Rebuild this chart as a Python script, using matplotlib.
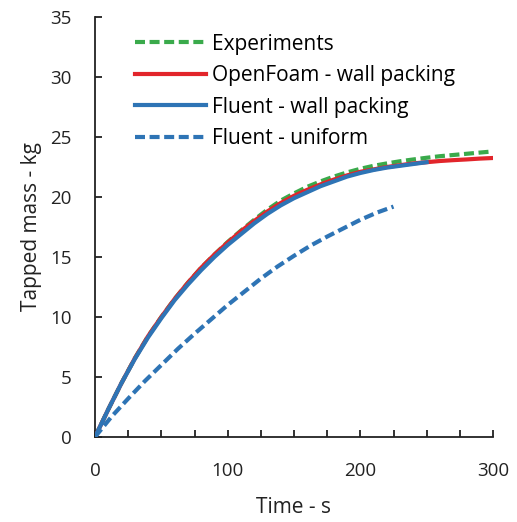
import matplotlib
matplotlib.use("Agg")
import matplotlib.pyplot as plt
from matplotlib.ticker import MultipleLocator

plt.rcParams['font.family'] = ['Open Sans', 'DejaVu Sans']

# Tapped mass over time
t_exp = [0, 10, 20, 30, 40, 50, 60, 70, 80, 90, 100, 110, 120, 130, 140, 150,
         160, 170, 180, 190, 200, 210, 220, 230, 240, 250, 260, 270, 280, 290, 300]
m_exp = [0, 2.3, 4.5, 6.55, 8.4, 10.0, 11.5, 12.85, 14.1, 15.2, 16.25, 17.2, 18.1,
         18.95, 19.7, 20.3, 20.85, 21.3, 21.7, 22.05, 22.35, 22.6, 22.8, 22.98,
         23.13, 23.27, 23.4, 23.5, 23.6, 23.7, 23.8]

t_openfoam = [0, 10, 20, 30, 40, 50, 60, 70, 80, 90, 100, 110, 120, 130, 140, 150,
              160, 170, 180, 190, 200, 210, 220, 230, 240, 250, 260, 270, 280, 290, 300]
m_openfoam = [0, 2.3, 4.5, 6.55, 8.4, 10.0, 11.5, 12.85, 14.1, 15.2, 16.2, 17.15,
              18.0, 18.8, 19.5, 20.1, 20.6, 21.05, 21.45, 21.8, 22.1, 22.3, 22.5,
              22.65, 22.8, 22.9, 23.0, 23.07, 23.13, 23.2, 23.25]

t_fluent_wall = [0, 10, 20, 30, 40, 50, 60, 70, 80, 90, 100, 110, 120, 130, 140,
                 150, 160, 170, 180, 190, 200, 210, 220, 230, 240, 250]
m_fluent_wall = [0, 2.3, 4.5, 6.5, 8.3, 9.9, 11.4, 12.7, 13.9, 15.0, 16.0, 16.9,
                 17.8, 18.6, 19.3, 19.9, 20.4, 20.9, 21.3, 21.7, 22.0, 22.25, 22.45,
                 22.6, 22.75, 22.9]

t_fluent_uniform = [0, 12.5, 25, 37.5, 50, 62.5, 75, 87.5, 100, 112.5, 125, 137.5,
                    150, 162.5, 175, 187.5, 200, 212.5, 225]
m_fluent_uniform = [0, 1.7, 3.2, 4.65, 6.0, 7.35, 8.6, 9.8, 11.0, 12.1, 13.2, 14.2,
                    15.1, 15.95, 16.7, 17.4, 18.1, 18.7, 19.2]

labels = ["Experiments", "OpenFoam - wall packing",
          "Fluent - wall packing", "Fluent - uniform"]

GREEN = "#3AAA4B"
RED = "#E2252B"
BLUE = "#2E74B5"
DASH = (0, (2.4, 1.1))

fig = plt.figure(figsize=(5.17, 5.22), dpi=100)
ax = fig.add_axes([95 / 517, 1 - 437 / 522, 398 / 517, 420 / 522])

ax.plot(t_exp, m_exp, color=GREEN, lw=3, ls=DASH, label=labels[0], zorder=2)
ax.plot(t_openfoam, m_openfoam, color=RED, lw=3, label=labels[1], zorder=3)
ax.plot(t_fluent_wall, m_fluent_wall, color=BLUE, lw=3, label=labels[2], zorder=4)
ax.plot(t_fluent_uniform, m_fluent_uniform, color=BLUE, lw=3, ls=DASH,
        label=labels[3], zorder=4)

ax.set_xlim(0, 300)
ax.set_ylim(0, 35)
ax.xaxis.set_major_locator(MultipleLocator(100))
ax.xaxis.set_minor_locator(MultipleLocator(25))
ax.yaxis.set_major_locator(MultipleLocator(5))

for side in ("top", "right"):
    ax.spines[side].set_visible(False)
for side in ("left", "bottom"):
    ax.spines[side].set_linewidth(1.3)
    ax.spines[side].set_color("#222222")

ax.tick_params(axis="both", which="both", direction="in", length=5, width=1.3,
               color="#222222", labelsize=13.5, labelcolor="#222222")
ax.tick_params(axis="y", pad=17)
ax.tick_params(axis="x", pad=18)

ax.set_xlabel("Time - s", fontsize=15, color="#222222", labelpad=12)
ax.set_ylabel("Tapped mass - kg", fontsize=15, color="#222222", labelpad=6)

ax.legend(loc="upper left", bbox_to_anchor=(0.07, 0.99), frameon=False,
          fontsize=15, handlelength=3.4, handletextpad=0.3, labelspacing=0.5,
          borderaxespad=0.2)

fig.savefig("out.png", dpi=100)
